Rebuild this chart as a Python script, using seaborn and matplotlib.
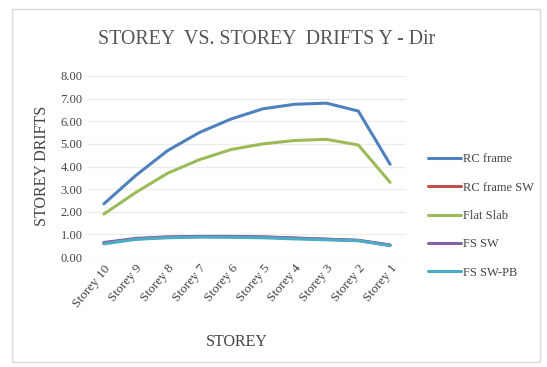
import matplotlib
matplotlib.use("Agg")
import matplotlib.pyplot as plt
from matplotlib.patches import Rectangle
import seaborn as sns
import pandas as pd

storeys = ["Storey 10", "Storey 9", "Storey 8", "Storey 7", "Storey 6",
           "Storey 5", "Storey 4", "Storey 3", "Storey 2", "Storey 1"]
rc_frame = [2.35, 3.60, 4.70, 5.50, 6.10, 6.55, 6.75, 6.80, 6.45, 4.10]
rc_frame_sw = [0.62, 0.80, 0.87, 0.90, 0.90, 0.88, 0.83, 0.78, 0.73, 0.52]
flat_slab = [1.90, 2.85, 3.70, 4.30, 4.75, 5.00, 5.15, 5.20, 4.95, 3.30]
fs_sw = [0.64, 0.82, 0.89, 0.91, 0.91, 0.89, 0.84, 0.79, 0.74, 0.53]
fs_sw_pb = [0.58, 0.78, 0.85, 0.88, 0.87, 0.85, 0.80, 0.76, 0.72, 0.50]

series = {
    "RC frame": rc_frame,
    "RC frame SW": rc_frame_sw,
    "Flat Slab": flat_slab,
    "FS SW": fs_sw,
    "FS SW-PB": fs_sw_pb,
}
colors = ["#4F81BD", "#C0504D", "#9BBB59", "#8064A2", "#4BACC6"]

df = pd.concat(
    [pd.DataFrame({"Storey": storeys, "Drift": v, "Model": k}) for k, v in series.items()],
    ignore_index=True,
)

sns.set_theme(style="white")
plt.rcParams["font.family"] = "serif"
plt.rcParams["font.serif"] = ["Liberation Serif", "DejaVu Serif"]

W, H = 547, 367
fig = plt.figure(figsize=(W / 100, H / 100), dpi=100)
ax = fig.add_axes([88 / W, 1 - 257 / H, (406 - 88) / W, (257 - 76) / H])

sns.lineplot(data=df, x="Storey", y="Drift", hue="Model", palette=colors,
             linewidth=2.2, sort=False, ax=ax, legend=True)

ax.set_ylim(0, 8)
ax.set_xlim(-0.5, 9.5)
ax.set_yticks(range(0, 9))
ax.set_yticklabels([f"{v:.2f}" for v in range(0, 9)], fontsize=9, color="#444444")
ax.set_xticks(range(len(storeys)))
ax.set_xticklabels(storeys, rotation=50, ha="right", rotation_mode="anchor",
                   fontsize=9.5, color="#444444")
ax.tick_params(axis="both", length=0, pad=4)
ax.grid(axis="y", color="#ececec", linewidth=0.9)
ax.set_axisbelow(True)
for s in ax.spines.values():
    s.set_visible(False)

ax.set_xlabel("STOREY", fontsize=11.5, color="#444444", va="center")
ax.set_ylabel("STOREY DRIFTS", fontsize=11.5, color="#444444", va="center")
ax.xaxis.set_label_coords(237 / W, 1 - 342 / H, transform=fig.transFigure)
ax.yaxis.set_label_coords(42 / W, 1 - 166 / H, transform=fig.transFigure)

fig.text(267 / W, 1 - 40 / H, "STOREY  VS. STOREY  DRIFTS Y - Dir",
         ha="center", va="center", fontsize=14.3, color="#555555")

handles, labels = ax.get_legend_handles_labels()
ax.legend(handles, labels, loc="center left", bbox_to_anchor=(417 / W, 1 - 216 / H),
          bbox_transform=fig.transFigure, frameon=False, fontsize=9,
          labelspacing=1.3, handlelength=2.6, handletextpad=0.2,
          labelcolor="#444444")

fig.patches.append(Rectangle((12 / W, 5 / H), 528 / W, 353 / H,
                             transform=fig.transFigure, fill=False,
                             edgecolor="#d9d9d9", linewidth=1.0))

fig.savefig("out.png", dpi=100, facecolor="white")
